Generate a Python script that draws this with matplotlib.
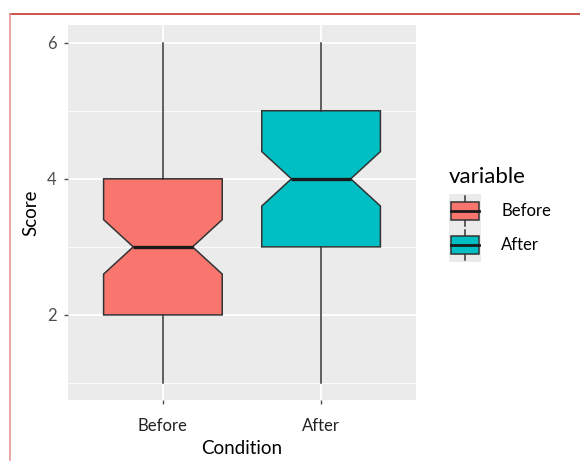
import matplotlib.pyplot as plt
from matplotlib.legend_handler import HandlerBase
from matplotlib.lines import Line2D
from matplotlib.patches import Rectangle

# box statistics
conditions = ["Before", "After"]
whisker_low = [1, 1]
q1 = [2, 3]
medians = [3, 4]
q3 = [4, 5]
whisker_high = [6, 6]
notch_low = [2.6, 3.6]
notch_high = [3.4, 4.4]
fill_colors = ["#F8766D", "#00BFC4"]

plt.rcParams['font.family'] = ['Lato', 'DejaVu Sans']

fig = plt.figure(figsize=(5.8, 4.61), dpi=100)
ax = fig.add_axes([68 / 580, 1 - 400 / 461, 348 / 580, 375 / 461])
ax.set_facecolor("#EBEBEB")

stats = []
for i, name in enumerate(conditions):
    stats.append(dict(label=name, whislo=whisker_low[i], q1=q1[i], med=medians[i],
                      q3=q3[i], whishi=whisker_high[i], cilo=notch_low[i],
                      cihi=notch_high[i], fliers=[]))

edge = "#333333"
bp = ax.bxp(stats, positions=[1, 2], widths=0.75, shownotches=True, patch_artist=True,
            showcaps=False, showfliers=False,
            boxprops=dict(edgecolor=edge, linewidth=1.1),
            whiskerprops=dict(color=edge, linewidth=1.1),
            medianprops=dict(color="#1a1a1a", linewidth=2.4, solid_capstyle="butt"),
            zorder=3)
for patch, c in zip(bp["boxes"], fill_colors):
    patch.set_facecolor(c)

ax.set_xlim(0.4, 2.6)
ax.set_ylim(0.75, 6.26)
ax.set_yticks([2, 4, 6])
ax.set_yticks([1, 3, 5], minor=True)
ax.set_xticks([1, 2])
ax.set_xticklabels(conditions)
ax.grid(True, which="major", color="white", linewidth=1.3, zorder=0)
ax.grid(True, which="minor", axis="y", color="white", linewidth=0.6, zorder=0)
ax.set_axisbelow(True)
for s in ax.spines.values():
    s.set_visible(False)
ax.tick_params(axis="both", which="major", length=3, color="#4D4D4D", width=1)
ax.tick_params(axis="y", which="major", labelsize=12, labelcolor="#4D4D4D", pad=5)
ax.tick_params(axis="x", which="major", labelsize=12, labelcolor="#222222", pad=10)
ax.tick_params(which="minor", length=0)
ax.set_xlabel("Condition", fontsize=13.5, color="black", labelpad=4)
ax.set_ylabel("Score", fontsize=13.5, color="black", labelpad=6)


class BoxKey(HandlerBase):
    # ggplot-like boxplot glyph: grey key background, whisker, box, median
    def create_artists(self, legend, orig_handle, xdescent, ydescent, width, height,
                       fontsize, trans):
        fc = orig_handle.get_facecolor()
        x0 = -xdescent
        cy = -ydescent + height / 2
        cx = x0 + width / 2
        bg = Rectangle((x0, cy - 12.3), width, 24.6, facecolor="#EBEBEB",
                       edgecolor="none", transform=trans)
        w = Line2D([cx, cx], [cy - 10.8, cy + 10.8], color=edge,
                   linewidth=1.1, transform=trans)
        box = Rectangle((x0 + 1.6, cy - 6.5), width - 3.2, 13, facecolor=fc,
                        edgecolor=edge, linewidth=1.1, transform=trans)
        med = Line2D([x0 + 1.6, x0 + width - 1.6], [cy, cy], color="#1a1a1a",
                     linewidth=2, transform=trans)
        return [bg, w, box, med]


handles = [Rectangle((0, 0), 1, 1, facecolor=c) for c in fill_colors]
leg = fig.legend(handles, conditions, handler_map={Rectangle: BoxKey()},
                 loc="upper left", bbox_to_anchor=(434 / 580, 1 - 152 / 461),
                 frameon=False, title="variable", title_fontsize=16, fontsize=12,
                 handlelength=1.93, handleheight=1.53, labelspacing=0.8,
                 handletextpad=1.2, alignment="left")

# red frame around the screenshot
fig.add_artist(Line2D([10 / 580, 1], [1 - 14 / 461] * 2, color="#C0392B",
                      linewidth=1.2, transform=fig.transFigure))
fig.add_artist(Line2D([10 / 580] * 2, [0, 1 - 14 / 461], color="#E89A9A",
                      linewidth=1.2, transform=fig.transFigure))

fig.savefig("out.png", dpi=100)
